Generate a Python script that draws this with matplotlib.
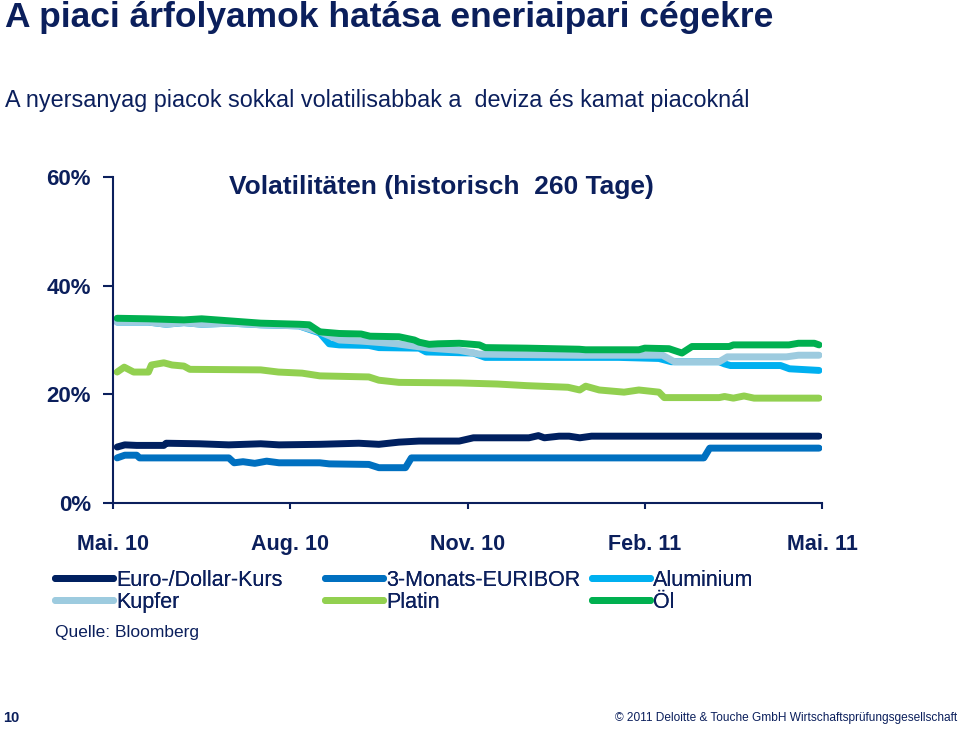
#!/usr/bin/env python

import matplotlib
matplotlib.use("Agg")
import matplotlib.pyplot as plt

# colours
navy = "#0b1f5c"

# x = months after 1 May 2010, y = volatility in %
euro_x = [0.07, 0.2, 0.4, 0.86, 0.9, 1.46, 1.96, 2.5, 2.81, 3.5, 4.16, 4.5, 4.84, 5.18, 5.86, 6.1, 7.04, 7.2, 7.3, 7.55, 7.72, 7.9, 8.1, 11.95]
euro_y = [10.3, 10.7, 10.6, 10.6, 11.0, 10.9, 10.7, 10.9, 10.7, 10.8, 11.0, 10.8, 11.2, 11.4, 11.4, 12.0, 12.0, 12.4, 12.0, 12.3, 12.3, 12.0, 12.3, 12.3]

euribor_x = [0.07, 0.2, 0.4, 0.45, 1.96, 2.05, 2.2, 2.4, 2.6, 2.81, 3.5, 3.66, 4.33, 4.5, 4.95, 5.05, 10.0, 10.1, 11.95]
euribor_y = [8.3, 8.8, 8.8, 8.3, 8.3, 7.4, 7.6, 7.3, 7.7, 7.4, 7.4, 7.2, 7.1, 6.5, 6.5, 8.3, 8.3, 10.1, 10.1]

alu_x = [0.07, 0.6, 0.9, 1.2, 1.5, 2.0, 2.5, 3.15, 3.5, 3.66, 3.83, 4.33, 4.5, 5.18, 5.3, 6.1, 6.3, 7.9, 8.56, 9.24, 9.45, 9.58, 10.26, 10.35, 10.45, 11.3, 11.45, 11.95]
alu_y = [33.3, 33.3, 32.9, 33.2, 32.9, 33.1, 32.8, 32.6, 31.3, 29.3, 29.1, 29.0, 28.6, 28.5, 27.8, 27.6, 26.8, 26.8, 26.8, 26.6, 26.0, 26.0, 26.0, 25.6, 25.3, 25.3, 24.7, 24.4]

kupfer_x = [0.07, 0.6, 0.9, 1.2, 1.5, 2.0, 2.5, 3.15, 3.5, 3.83, 4.2, 4.8, 5.35, 5.86, 6.2, 7.9, 9.3, 9.5, 10.26, 10.4, 11.4, 11.6, 11.95]
kupfer_y = [33.3, 33.3, 32.9, 33.2, 32.9, 33.1, 32.8, 32.6, 31.5, 30.0, 29.8, 29.3, 28.5, 28.1, 27.4, 27.2, 27.2, 26.0, 26.0, 26.9, 26.9, 27.2, 27.2]

platin_x = [0.07, 0.19, 0.35, 0.6, 0.65, 0.86, 1.0, 1.2, 1.3, 2.5, 2.8, 3.2, 3.5, 4.33, 4.5, 4.84, 5.86, 6.5, 7.0, 7.7, 7.9, 8.0, 8.23, 8.65, 8.9, 9.24, 9.33, 10.26, 10.35, 10.5, 10.68, 10.85, 11.95]
platin_y = [24.1, 25.0, 24.1, 24.1, 25.4, 25.8, 25.4, 25.2, 24.6, 24.5, 24.1, 23.9, 23.4, 23.2, 22.6, 22.2, 22.1, 21.9, 21.6, 21.3, 20.8, 21.5, 20.8, 20.4, 20.8, 20.4, 19.4, 19.4, 19.6, 19.3, 19.7, 19.3, 19.3]

oel_x = [0.07, 0.6, 1.2, 1.5, 2.0, 2.5, 3.15, 3.32, 3.5, 3.83, 4.2, 4.35, 4.84, 5.1, 5.18, 5.35, 5.5, 5.86, 6.2, 6.3, 7.0, 7.89, 8.0, 8.9, 9.0, 9.41, 9.63, 9.8, 10.43, 10.5, 11.44, 11.6, 11.87, 11.95]
oel_y = [34.0, 33.9, 33.7, 33.9, 33.5, 33.1, 32.9, 32.8, 31.5, 31.2, 31.1, 30.7, 30.6, 30.0, 29.6, 29.2, 29.3, 29.4, 29.1, 28.6, 28.5, 28.3, 28.2, 28.2, 28.5, 28.4, 27.6, 28.8, 28.8, 29.1, 29.1, 29.4, 29.4, 29.1]

tick_pos = [0, 3, 6, 9, 12]
tick_labels = ["Mai. 10", "Aug. 10", "Nov. 10", "Feb. 11", "Mai. 11"]

plt.rcParams['font.family'] = ['Liberation Sans', 'DejaVu Sans']

fig = plt.figure(figsize=(9.6, 7.33), dpi=100)
ax = fig.add_axes([113 / 960, 230 / 733, 709 / 960, 326 / 733])

lw = 5
l_euro, = ax.plot(euro_x, euro_y, color="#002060", lw=lw, solid_capstyle='round', solid_joinstyle='round')
l_eur, = ax.plot(euribor_x, euribor_y, color="#0070c0", lw=lw, solid_capstyle='round', solid_joinstyle='round')
l_alu, = ax.plot(alu_x, alu_y, color="#00b0f0", lw=lw, solid_capstyle='round', solid_joinstyle='round')
l_kup, = ax.plot(kupfer_x, kupfer_y, color="#9dcbdf", lw=lw, solid_capstyle='round', solid_joinstyle='round')
l_pla, = ax.plot(platin_x, platin_y, color="#92d050", lw=lw, solid_capstyle='round', solid_joinstyle='round')
l_oel, = ax.plot(oel_x, oel_y, color="#00b050", lw=lw, solid_capstyle='round', solid_joinstyle='round')

ax.set_xlim(0, 12)
ax.set_ylim(0, 60)
ax.set_yticks([0, 20, 40, 60])
ax.set_yticklabels(["0%", "20%", "40%", "60%"])
ax.set_xticks(tick_pos)
ax.set_xticklabels(tick_labels)
for s in ["top", "right"]:
    ax.spines[s].set_visible(False)
for s in ["left", "bottom"]:
    ax.spines[s].set_color(navy)
    ax.spines[s].set_linewidth(1.5)
ax.tick_params(axis='y', length=7, width=1.5, color=navy, pad=9, labelsize=16, labelcolor=navy)
ax.tick_params(axis='x', length=4.5, width=1.5, color=navy, pad=18, labelsize=15.5, labelcolor=navy)
for lab in ax.get_xticklabels() + ax.get_yticklabels():
    lab.set_fontweight('bold')

ax.text(0.164, 0.97, "Volatilitäten (historisch  260 Tage)", transform=ax.transAxes,
        fontsize=19, fontweight='bold', color=navy, ha='left', va='center')

# titles
fig.text(5 / 960, 1 - 17 / 733, "A piaci árfolyamok hatása eneriaipari cégekre",
         fontsize=25.5, fontweight='bold', color=navy, ha='left', va='center')
fig.text(5 / 960, 1 - 100 / 733, "A nyersanyag piacok sokkal volatilisabbak a  deviza és kamat piacoknál",
         fontsize=16.8, color=navy, ha='left', va='center')

# legend, three columns
cols = [([l_euro, l_kup], ["Euro-/Dollar-Kurs", "Kupfer"], 55),
        ([l_eur, l_pla], ["3-Monats-EURIBOR", "Platin"], 325),
        ([l_alu, l_oel], ["Aluminium", "Öl"], 592)]
for h, lbl, xp in cols:
    leg = fig.legend(h, lbl, loc='upper left', bbox_to_anchor=(xp / 960, 1 - 570 / 733),
                     frameon=False, fontsize=15.5, handlelength=2.7, handletextpad=0.15,
                     labelspacing=0.03, borderpad=0, borderaxespad=0)
    for t in leg.get_texts():
        t.set_color(navy)
    fig.add_artist(leg)

fig.text(55 / 960, 1 - 633 / 733, "Quelle: Bloomberg", fontsize=12.5, color=navy, ha='left', va='center')

# footer
fig.text(3 / 960, 1 - 718 / 733, "10", fontsize=10.5, fontweight='bold', color=navy, ha='left', va='center')
fig.text(957 / 960, 1 - 718 / 733, "© 2011 Deloitte & Touche GmbH Wirtschaftsprüfungsgesellschaft",
         fontsize=8.6, color=navy, ha='right', va='center')

plt.savefig("out.png", dpi=100)
